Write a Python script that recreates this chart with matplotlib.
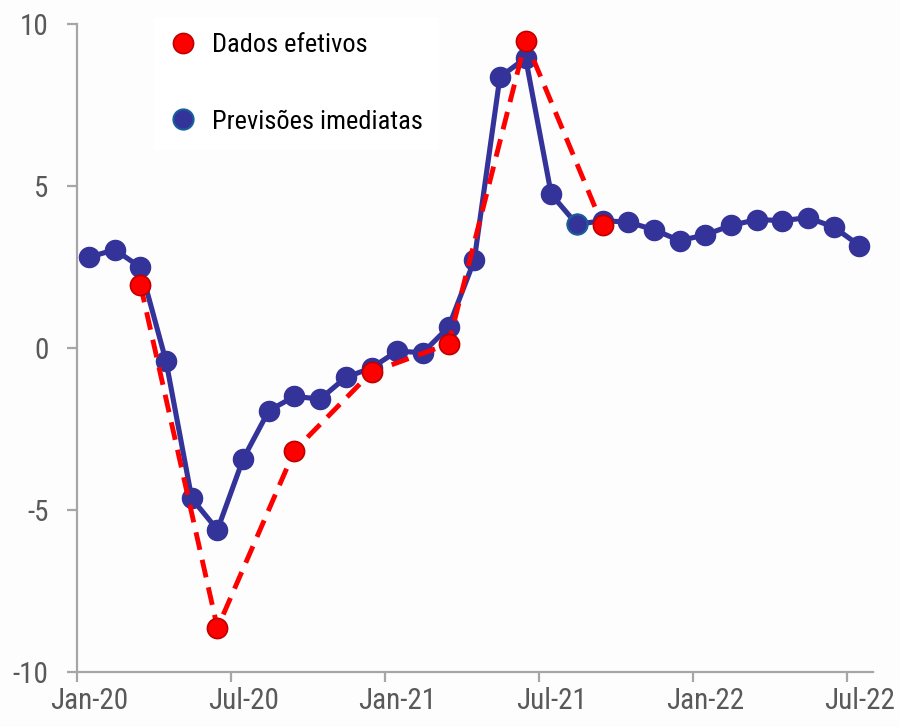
import matplotlib
matplotlib.use("Agg")
import matplotlib.pyplot as plt
from matplotlib.lines import Line2D
from matplotlib.ticker import FixedLocator, NullFormatter, FixedFormatter

plt.rcParams['font.family'] = ['Roboto Condensed', 'Liberation Sans', 'DejaVu Sans']

# ---- data ----
months = ["Jan-20", "Feb-20", "Mar-20", "Apr-20", "May-20", "Jun-20", "Jul-20", "Aug-20",
          "Sep-20", "Oct-20", "Nov-20", "Dec-20", "Jan-21", "Feb-21", "Mar-21", "Apr-21",
          "May-21", "Jun-21", "Jul-21", "Aug-21", "Sep-21", "Oct-21", "Nov-21", "Dec-21",
          "Jan-22", "Feb-22", "Mar-22", "Apr-22", "May-22", "Jun-22", "Jul-22"]
nowcast = [2.80, 3.03, 2.49, -0.42, -4.65, -5.62, -3.43, -1.94, -1.50, -1.58, -0.91, -0.62,
           -0.10, -0.15, 0.64, 2.70, 8.36, 8.95, 4.74, 3.81, 3.93, 3.88, 3.65, 3.31,
           3.49, 3.78, 3.96, 3.93, 4.02, 3.73, 3.16]
actual_months = ["Mar-20", "Jun-20", "Sep-20", "Dec-20", "Mar-21", "Jun-21", "Sep-21"]
actual = [1.95, -8.65, -3.17, -0.75, 0.12, 9.49, 3.78]
tick_labels = ["Jan-20", "Jul-20", "Jan-21", "Jul-21", "Jan-22", "Jul-22"]
legend_labels = ["Dados efetivos", "Previsões imediatas"]
special_month = "Aug-21"

BLUE = "#333399"
RED = "#ff0000"
RED_EDGE = "#c00000"
SPECIAL_EDGE = "#17609a"
GRAY = "#a6a6a6"
TXT = "#595959"

off = 0.47
xs = [i + off for i in range(len(months))]
xa = [months.index(m) + off for m in actual_months]

fig = plt.figure(figsize=(9, 7.27), dpi=100, facecolor="#fdfdfd")
ax = fig.add_axes([77/900, 1-671.7/727, 796/900, 647.7/727])
ax.set_facecolor("#fdfdfd")

ax.plot(xs, nowcast, color=BLUE, lw=3.7, marker="o", ms=14.5, mfc=BLUE, mec=BLUE,
        solid_capstyle="round", zorder=3)
si = months.index(special_month)
ax.plot([xs[si]], [nowcast[si]], ls="none", marker="o", ms=14.5, mfc=BLUE,
        mec=SPECIAL_EDGE, mew=1.5, zorder=4)
ax.plot(xa, actual, color=RED, lw=3.5, ls=(0, (3.7, 2.1)), zorder=5)
ax.plot(xa, actual, ls="none", marker="o", ms=14.5, mfc=RED, mec=RED_EDGE, mew=1.2, zorder=6)

ax.set_xlim(0, 31)
ax.set_ylim(-10, 10)
ax.set_yticks([-10, -5, 0, 5, 10])
ax.set_yticklabels(["-10", "-5", "0", "5", "10"])

major = [months.index(t) for t in tick_labels]
ax.xaxis.set_major_locator(FixedLocator(major))
ax.xaxis.set_major_formatter(NullFormatter())
ax.xaxis.set_minor_locator(FixedLocator([m + off for m in major]))
ax.xaxis.set_minor_formatter(FixedFormatter(tick_labels))

for s in ["top", "right"]:
    ax.spines[s].set_visible(False)
for s in ["left", "bottom"]:
    ax.spines[s].set_color(GRAY)
    ax.spines[s].set_linewidth(1.6)

ax.tick_params(axis="both", which="major", color=GRAY, width=1.6, length=7.5,
               labelsize=21, labelcolor=TXT)
ax.tick_params(axis="y", pad=13)
ax.tick_params(axis="x", which="minor", length=0, labelsize=21, labelcolor=TXT, pad=11)

handles = [
    Line2D([], [], ls="none", marker="o", ms=14.5, mfc=RED, mec=RED_EDGE, mew=1.2),
    Line2D([], [], ls="none", marker="o", ms=14.5, mfc=BLUE, mec=SPECIAL_EDGE, mew=1.5),
]
leg = ax.legend(handles, legend_labels, loc="upper left", bbox_to_anchor=(0.08, 1.031),
                fontsize=19, frameon=True, facecolor="white", edgecolor="none",
                framealpha=1, fancybox=False, labelspacing=2.0, handlelength=1.0,
                handletextpad=0.6, borderpad=0.6)
leg.set_zorder(2)

fig.savefig("out.png", dpi=100, facecolor=fig.get_facecolor())
